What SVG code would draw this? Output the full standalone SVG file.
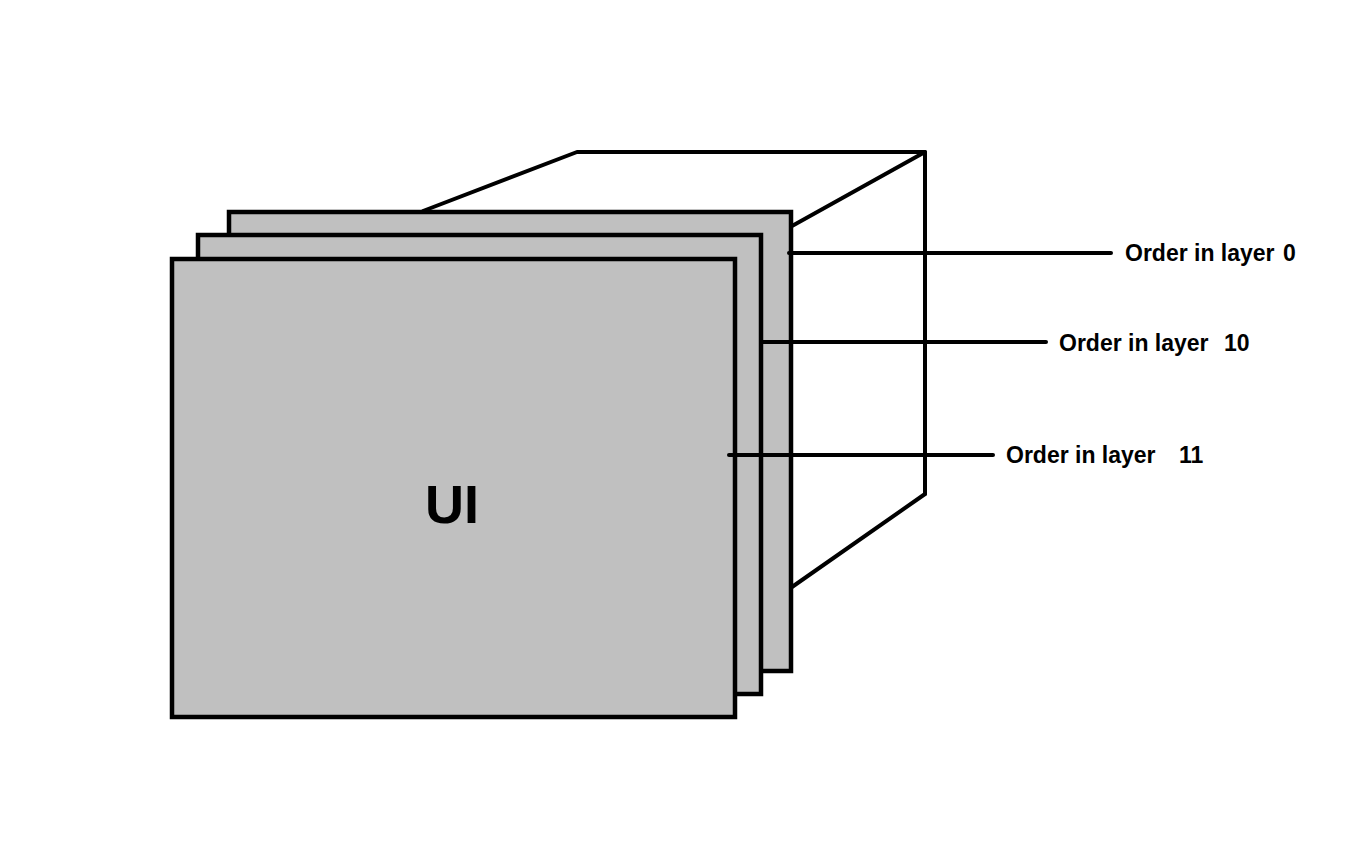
<svg xmlns="http://www.w3.org/2000/svg" width="1366" height="864" viewBox="0 0 1366 864">
<style>
.layer{fill:#c0c0c0;stroke:#000;stroke-width:4.5}
.edge{fill:none;stroke:#000;stroke-width:4;stroke-linecap:round;stroke-linejoin:round}
.lead{fill:none;stroke:#000;stroke-width:4;stroke-linecap:round}
.lbl{font-family:"Liberation Sans",Arial,sans-serif;font-weight:bold;font-size:23px;fill:#000}
.ui{font-family:"Liberation Sans",Arial,sans-serif;font-weight:bold;font-size:54px;fill:#000}
</style>
<rect width="1366" height="864" fill="#fff"/>
<g id="frustum">
<path class="edge" d="M423,211 L577,152 L925,152 L925,494"/>
<path class="edge" d="M792,226 L925,152"/>
<path class="edge" d="M792,587 L925,494"/>
</g>
<g id="layer-0"><rect class="layer" x="229" y="212" width="562" height="459"/></g>
<g id="layer-10"><rect class="layer" x="198" y="235" width="563" height="459"/></g>
<g id="layer-11"><rect class="layer" x="172" y="259" width="563" height="458"/>
<text class="ui" x="452" y="523" text-anchor="middle">UI</text></g>
<g id="connectors">
<line class="lead" x1="789" y1="253" x2="1111" y2="253"/>
<line class="lead" x1="762" y1="342" x2="1046" y2="342"/>
<line class="lead" x1="729" y1="455" x2="993" y2="455"/>
</g>
<g id="labels">
<text class="lbl" y="261"><tspan x="1125">Order in layer</tspan><tspan x="1283">0</tspan></text>
<text class="lbl" y="351"><tspan x="1059">Order in layer</tspan><tspan x="1224">10</tspan></text>
<text class="lbl" y="463"><tspan x="1006">Order in layer</tspan><tspan x="1179">11</tspan></text>
</g>
</svg>
